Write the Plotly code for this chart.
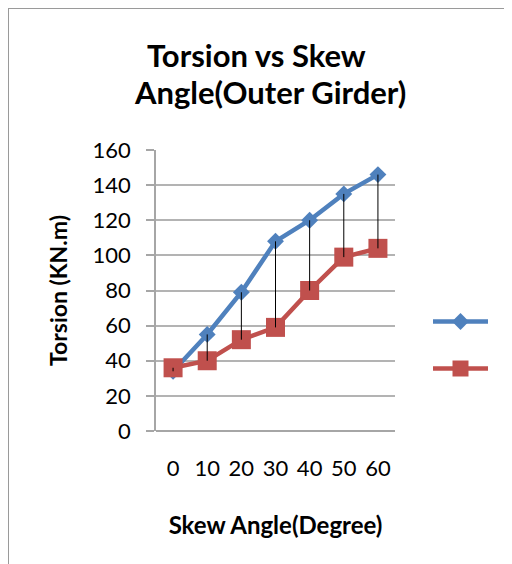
import plotly.graph_objects as go

skew_angles = ["0", "10", "20", "30", "40", "50", "60"]
series_a = [34, 55, 79, 108, 120, 135, 146]
series_b = [36, 40, 52, 59, 80, 99, 104]
y_ticks = [0, 20, 40, 60, 80, 100, 120, 140, 160]

FONT = "Lato, 'Open Sans', sans-serif"
BLUE = "#4F81BD"
RED = "#C0504D"

# the page body has an 8px margin, figure coordinates are page coordinates - 8
W, H = 504, 556
L, R, T, B = 148, 117, 142, 133
PW, PH = W - L - R, H - T - B


def px_x(x):
    return (x - L) / PW


def px_y(y):
    return (H - B - y) / PH


# drop lines between the two series, built from data
drop_x, drop_y = [], []
for c, a, b in zip(skew_angles, series_a, series_b):
    drop_x += [c, c, None]
    drop_y += [a, b, None]

fig = go.Figure()
fig.add_trace(go.Scatter(
    x=skew_angles, y=series_a, mode="lines+markers", name=" ",
    line=dict(color=BLUE, width=4.5),
    marker=dict(symbol="diamond", size=13, color=BLUE),
    legendgroup="a",
))
fig.add_trace(go.Scatter(
    x=skew_angles, y=series_b, mode="lines+markers", name=" ",
    line=dict(color=RED, width=4.5),
    marker=dict(symbol="square", size=19, color=RED),
    legendgroup="b",
))
fig.add_trace(go.Scatter(
    x=drop_x, y=drop_y, mode="lines", showlegend=False,
    line=dict(color="black", width=1), hoverinfo="skip",
))

title_lines = ["Torsion vs Skew", "Angle(Outer Girder)"]
title_pos = [(248, 47), (262, 84)]
annotations = [
    dict(text="<b>%s</b>" % t, xref="paper", yref="paper",
         x=px_x(xc), y=px_y(yc), xanchor="center", yanchor="middle",
         showarrow=False, font=dict(family=FONT, size=31, color="black"))
    for t, (xc, yc) in zip(title_lines, title_pos)
]

fig.update_layout(
    width=W, height=H,
    margin=dict(l=L, r=R, t=T, b=B, pad=0, autoexpand=False),
    paper_bgcolor="white", plot_bgcolor="white",
    font=dict(family=FONT, color="black"),
    annotations=annotations,
    xaxis=dict(
        type="category", categoryorder="array", categoryarray=skew_angles,
        range=[-0.5, len(skew_angles) - 0.5],
        showgrid=False, showline=False, ticks="", zeroline=False,
        tickfont=dict(family=FONT, size=22, color="black"),
        ticklabelstandoff=22,
        title=dict(text="<b>Skew Angle(Degree)</b>",
                   font=dict(family=FONT, size=24, color="black"), standoff=37),
    ),
    yaxis=dict(
        range=[0, 160], tickvals=y_ticks,
        showgrid=True, gridcolor="#B3B3B3", gridwidth=1.5,
        showline=True, linecolor="#A6A6A6", linewidth=1.5,
        ticks="outside", ticklen=8, tickcolor="#A6A6A6", tickwidth=1.5,
        zeroline=True, zerolinecolor="#A6A6A6", zerolinewidth=2,
        tickfont=dict(family=FONT, size=22, color="black"),
        ticklabelstandoff=11,
        title=dict(text="<b>Torsion (KN.m)</b>",
                   font=dict(family=FONT, size=23, color="black"), standoff=19),
    ),
    legend=dict(
        x=px_x(420), xanchor="left", y=px_y(337), yanchor="middle",
        font=dict(size=20), itemwidth=55,
        traceorder="grouped", tracegroupgap=18,
        bgcolor="rgba(0,0,0,0)",
    ),
    shapes=[
        dict(type="line", xref="paper", yref="paper",
             x0=px_x(0), x1=px_x(0), y0=px_y(0), y1=px_y(H + 10),
             line=dict(color="#9A9A9A", width=2)),
        dict(type="line", xref="paper", yref="paper",
             x0=px_x(0), x1=px_x(W), y0=px_y(0), y1=px_y(0),
             line=dict(color="#9A9A9A", width=2)),
    ],
)

fig.write_html("out.html", config={"displayModeBar": False})
